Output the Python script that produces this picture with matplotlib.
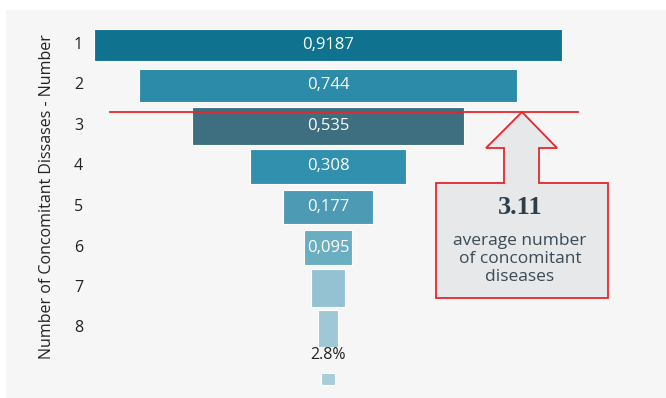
import matplotlib.pyplot as plt
from matplotlib.patches import Polygon
import numpy as np

# values read from the funnel
categories = ["1", "2", "3", "4", "5", "6", "7", "8"]
values = [0.9187, 0.744, 0.535, 0.308, 0.177, 0.095, 0.065, 0.038, 0.028]
value_labels = ["0,9187", "0,744", "0,535", "0,308", "0,177", "0,095", "", "", "2.8%"]
avg_label = "3.11"
avg_text = "average number\nof concomitant\ndiseases"

colors = ["#0f7390", "#2b8ba8", "#3d6f80", "#3190ad", "#4c9ab4",
          "#6aaec2", "#94c2d2", "#9ec8d6", "#a7cdd9"]
heights = [0.8, 0.8, 0.96, 0.86, 0.86, 0.86, 0.96, 0.9, 0.28]

plt.rcParams['font.family'] = ['Open Sans', 'DejaVu Sans']

fig = plt.figure(figsize=(6.66, 3.98), dpi=100, facecolor='white')
ax = fig.add_axes([0, 0, 1, 1])
ax.set_facecolor('none')

# light grey panel
bg = fig.add_axes([6 / 666, 0, 1 - 6 / 666, (398 - 10) / 398], zorder=-1)
bg.set_facecolor('#f6f6f6')
bg.set_xticks([])
bg.set_yticks([])
for s in bg.spines.values():
    s.set_visible(False)

pos = np.arange(1, len(values) + 1, dtype=float)
pos[-1] += 0.25
center = 0.0

ax.barh(pos, values, left=center - np.array(values) / 2, height=heights,
        color=colors, edgecolor='white', linewidth=0.8)

for p, v, lab in zip(pos[:-1], values[:-1], value_labels[:-1]):
    if lab:
        ax.text(center, p, lab, ha='center', va='center', color='white', fontsize=12)
ax.text(center, pos[-1] - 0.4, value_labels[-1], ha='center', va='bottom',
        color='#222222', fontsize=11.5)

ax.set_xlim((0 - 328) / 509, (666 - 328) / 509)
ax.set_ylim(1 + (398 - 45) / 40.5, 1 - 45 / 40.5)
ax.axis('off')

for p, c in zip(pos, categories):
    ax.text(-0.49, p, c, ha='center', va='center', fontsize=11.5, color='#222222')

fig.text(47 / 666, 1 - 197 / 398, "Number of Concomitant Dissases - Number",
         rotation=90, ha='center', va='center', fontsize=11.5, color='#222222')

# annotation layer in pixel space
ov = fig.add_axes([0, 0, 1, 1], zorder=3)
ov.set_xlim(0, 666)
ov.set_ylim(398, 0)
ov.axis('off')
ov.set_facecolor('none')

ov.plot([110, 578], [112, 112], color='#e8262a', lw=1.3)
arrow = [(436, 183), (504, 183), (504, 148), (486, 148), (522, 112), (557, 148),
         (539, 148), (539, 183), (608, 183), (608, 298), (436, 298)]
ov.add_patch(Polygon(arrow, closed=True, facecolor='#e6e8ea', edgecolor='#e8262a', lw=1.3))
ov.text(520, 207, avg_label, ha='center', va='center', fontsize=19,
        fontweight='bold', family='Liberation Serif', color='#2d3e4a')
ov.text(520, 259, avg_text, ha='center', va='center', fontsize=12.5,
        color='#3a4a55', linespacing=1.15)

fig.savefig('out.png', dpi=100, facecolor='white')
